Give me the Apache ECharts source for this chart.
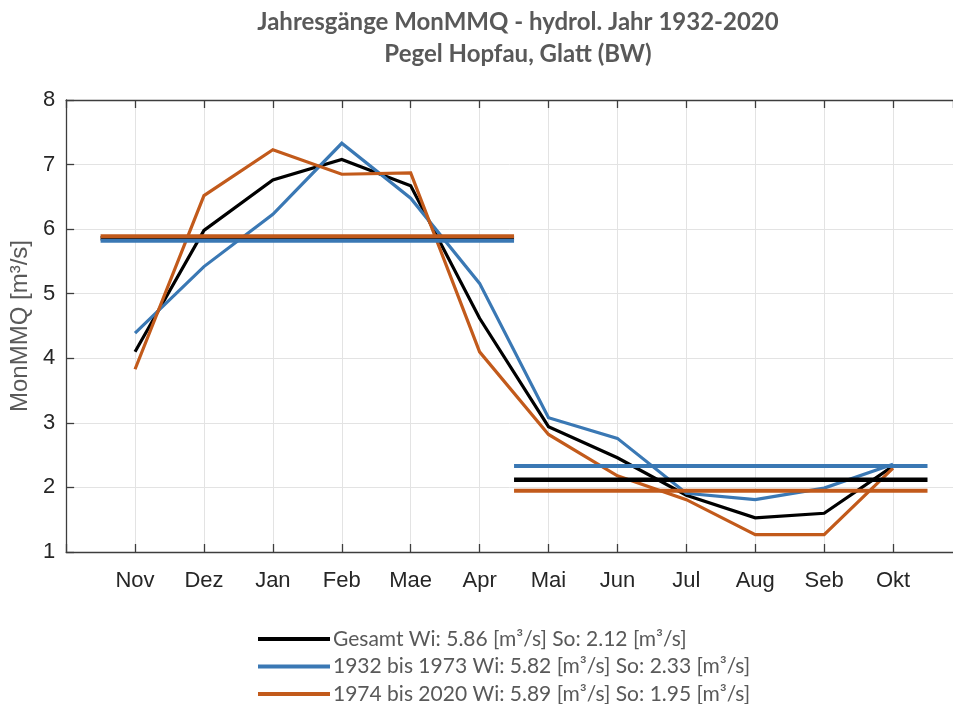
<!DOCTYPE html>
<html>
<head>
<meta charset="utf-8">
<script src="https://cdn.jsdelivr.net/npm/echarts@6/dist/echarts.min.js"></script>
<style>html,body{margin:0;padding:0;background:#fff}#c{width:953px;height:704px}</style>
</head>
<body>
<div id="c"></div>
<script>
const months = ['Nov','Dez','Jan','Feb','Mae','Apr','Mai','Jun','Jul','Aug','Seb','Okt'];
const gesamt = [4.10, 5.98, 6.76, 7.08, 6.67, 4.62, 2.94, 2.46, 1.88, 1.53, 1.60, 2.33];
const early  = [4.39, 5.42, 6.23, 7.33, 6.48, 5.16, 3.08, 2.76, 1.91, 1.81, 1.99, 2.36];
const late   = [3.83, 6.52, 7.23, 6.85, 6.87, 4.10, 2.82, 2.18, 1.81, 1.27, 1.27, 2.30];
const winterMeans = [5.86, 5.82, 5.89];
const summerMeans = [2.12, 2.33, 1.95];
const winterSpan = [0.5, 6.5];
const summerSpan = [6.5, 12.5];
const names = ['Gesamt Wi: 5.86 [m³/s] So: 2.12 [m³/s]',
               '1932 bis 1973 Wi: 5.82 [m³/s] So: 2.33 [m³/s]',
               '1974 bis 2020 Wi: 5.89 [m³/s] So: 1.95 [m³/s]'];
const colors = ['#000000', '#3a78b4', '#c25a1b'];
const yTicks = [1,2,3,4,5,6,7,8];
const xMax = 12.87;

const curves = [gesamt, early, late];
const series = [];
curves.forEach((arr, i) => {
  series.push({
    name: names[i], type: 'line', symbol: 'none', animation: false,
    data: arr.map((v, k) => [k + 1, v]),
    lineStyle: { color: colors[i], width: 3.2, join: 'miter' },
    itemStyle: { color: colors[i] }
  });
});
curves.forEach((arr, i) => {
  const w = i === 0 ? 4.5 : 4;
  series.push({
    name: 'w' + i, type: 'line', symbol: 'none', animation: false,
    data: [[winterSpan[0], winterMeans[i]], [winterSpan[1], winterMeans[i]]],
    lineStyle: { color: colors[i], width: w }
  });
  series.push({
    name: 's' + i, type: 'line', symbol: 'none', animation: false,
    data: [[summerSpan[0], summerMeans[i]], [summerSpan[1], summerMeans[i]]],
    lineStyle: { color: colors[i], width: w }
  });
});

const axisLineStyle = { color: '#3d3d3d', width: 1.3 };
const chart = echarts.init(document.getElementById('c'), null, { renderer: 'canvas' });
chart.setOption({
  animation: false,
  title: {
    text: 'Jahresgänge MonMMQ - hydrol. Jahr 1932-2020\nPegel Hopfau, Glatt (BW)',
    left: 513, top: 1, textAlign: 'center',
    textStyle: { fontFamily: 'Lato', fontWeight: 'bold', fontSize: 24, color: '#595959', lineHeight: 32 }
  },
  legend: {
    data: names, orient: 'vertical', left: 253, top: 623, height: 90,
    itemWidth: 72, itemHeight: 4, itemGap: 5.5, icon: 'rect',
    textStyle: { fontFamily: 'Lato', fontSize: 21, color: '#595959', lineHeight: 22, padding: [0,0,0,-2] }
  },
  grid: { left: 65, right: 0, top: 100, bottom: 152, containLabel: false },
  xAxis: [{
    type: 'value', min: 0, max: xMax, interval: 1, position: 'bottom',
    axisLine: { show: true, lineStyle: axisLineStyle },
    axisTick: { show: true, inside: true, length: 8, lineStyle: axisLineStyle },
    axisLabel: {
      margin: 18, fontFamily: 'Liberation Sans', fontSize: 22, color: '#262626', showMaxLabel: false,
      formatter: v => (Number.isInteger(v) && v >= 1 && v <= 12) ? months[v - 1] : ''
    },
    splitLine: { show: true, lineStyle: { color: '#e3e3e3', width: 1 } }
  }, {
    type: 'value', min: 0, max: xMax, interval: 1, position: 'top',
    axisLine: { show: true, lineStyle: axisLineStyle },
    axisTick: { show: true, inside: true, length: 8, lineStyle: axisLineStyle },
    axisLabel: { show: false }, splitLine: { show: false }
  }],
  yAxis: {
    type: 'value', min: 1, max: 8, interval: 1,
    name: 'MonMMQ [m³/s]', nameLocation: 'middle', nameGap: 30,
    nameTextStyle: { fontFamily: 'Liberation Sans', fontSize: 24, color: '#595959' },
    axisLine: { show: true, lineStyle: axisLineStyle },
    axisTick: { show: true, inside: true, length: 8, lineStyle: axisLineStyle },
    axisLabel: { margin: 11, fontFamily: 'Liberation Sans', fontSize: 22, color: '#262626',
      formatter: v => yTicks.includes(v) ? String(v) : '' },
    splitLine: { show: true, lineStyle: { color: '#e3e3e3', width: 1 } }
  },
  series: series
});
</script>
</body>
</html>
